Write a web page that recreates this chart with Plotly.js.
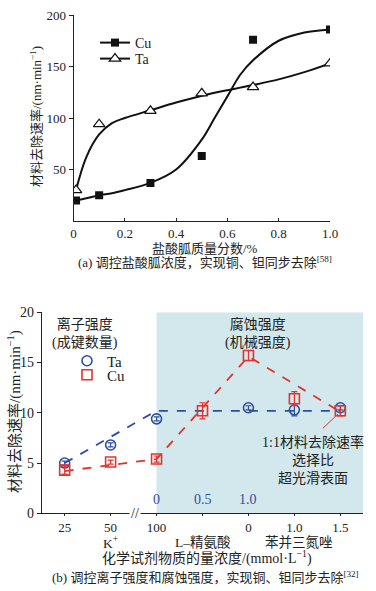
<!DOCTYPE html>
<html><head><meta charset="utf-8">
<script src="https://cdn.plot.ly/plotly-3.0.1.min.js"></script>
<style>html,body{margin:0;padding:0;background:#fff}#c{width:376px;height:591px}</style>
</head><body><div id="c"></div>
<script>
// ---- Top chart (a) ----
const topX = [0.01, 0.1, 0.3, 0.5, 0.7, 1.0];
const topCu = [20, 25, 37, 63, 176, 186];
const topTa = [30, 94, 107, 124, 130, 153];
const fitX = [0.01, 0.05, 0.1, 0.15, 0.2, 0.3, 0.4, 0.5, 0.55, 0.6, 0.65, 0.7, 0.8, 0.9, 1.0];
const fitCu = [20, 22, 25, 27, 30, 37, 50, 79, 100, 121, 142, 156, 175, 183, 186];
const fitTa = [30, 62, 84, 95, 100, 107.5, 115, 121.5, 124.5, 127, 129.5, 132, 137.5, 144.5, 153];
const topTickVals = [0, 0.2, 0.4, 0.6, 0.8, 1.0];
const topTickText = ["0", "0.2", "0.4", "0.6", "0.8", "1.0"];

// ---- Bottom chart (b) ----
const catLabels = ["25", "50", "100", "", "0", "1.0", "1.5"];
const innerLabels = ["0", "0.5", "1.0"];      // blue L-arginine scale at slots 2..4
const innerSlots = [2, 3, 4];
const taVals = [5.0, 6.8, 9.4, null, 10.5, 10.3, 10.5];
const taErr = [0.2, 0.2, 0.2, 0, 0.2, 0.6, 0.2];
const cuVals = [4.3, 5.1, 5.4, 10.2, 15.7, 11.4, 10.2];
const cuErr = [0.4, 0.2, 0.3, 0.8, 0.5, 0.7, 0.5];
const taFitX = [0, 2, 6];
const taFitY = [5.0, 10.2, 10.2];
const cuFitX = [0, 2, 4, 6];
const cuFitY = [4.2, 5.4, 15.6, 10.1];
const groupNames = ["K<sup>+</sup>", "L–精氨酸", "苯并三氮唑"];
const groupPos = [1, 3, 5.1];

const F = "Liberation Serif, Noto Sans CJK SC, serif";
const TXT = "#222";
const BLUE = "#2d4f9e";
const RED = "#e5322c";
const slots = catLabels.map((_, i) => i);
const W = 376, H = 591;
const px = v => v / W, py = v => 1 - v / H;

const cuTopMarker = {symbol: "square", size: 8, color: "#111"};
const taTopMarker = {symbol: "triangle-up", size: 10, color: "#fff", line: {color: "#111", width: 1.2}};
const taBotMarker = {symbol: "circle-open", size: 10, color: BLUE, line: {width: 1.6}};
const cuBotMarker = {symbol: "square-open", size: 10, color: RED, line: {width: 1.6}};

const traces = [
  {x: fitX, y: fitCu, mode: "lines", line: {color: "#111", width: 2, shape: "spline", smoothing: 1}, showlegend: false, xaxis: "x", yaxis: "y", hoverinfo: "skip"},
  {x: fitX, y: fitTa, mode: "lines", line: {color: "#111", width: 2, shape: "spline", smoothing: 1}, showlegend: false, xaxis: "x", yaxis: "y", hoverinfo: "skip"},
  {x: topX, y: topCu, mode: "markers", marker: cuTopMarker, showlegend: false, xaxis: "x", yaxis: "y"},
  {x: topX, y: topTa, mode: "markers", marker: taTopMarker, showlegend: false, xaxis: "x", yaxis: "y"},
  // top legend entries (legend only)
  {x: [null], y: [null], name: "Cu", mode: "lines+markers", line: {color: "#111", width: 2}, marker: cuTopMarker, legend: "legend", xaxis: "x", yaxis: "y"},
  {x: [null], y: [null], name: "Ta", mode: "lines+markers", line: {color: "#111", width: 2}, marker: taTopMarker, legend: "legend2", xaxis: "x", yaxis: "y"},
  // bottom dashed lines
  {x: taFitX, y: taFitY, mode: "lines", line: {color: BLUE, width: 1.8, dash: "dash"}, showlegend: false, xaxis: "x2", yaxis: "y2", hoverinfo: "skip"},
  {x: cuFitX, y: cuFitY, mode: "lines", line: {color: RED, width: 1.8, dash: "dash"}, showlegend: false, xaxis: "x2", yaxis: "y2", hoverinfo: "skip"},
  // bottom markers
  {x: slots, y: taVals, name: "Ta", mode: "markers", marker: taBotMarker,
   error_y: {type: "data", array: taErr, color: BLUE, thickness: 1.2, width: 3}, legend: "legend3", xaxis: "x2", yaxis: "y2"},
  {x: slots, y: cuVals, name: "Cu", mode: "markers", marker: cuBotMarker,
   error_y: {type: "data", array: cuErr, color: RED, thickness: 1.2, width: 3}, legend: "legend4", xaxis: "x2", yaxis: "y2"}
];

const A = (o) => Object.assign({showarrow: false, xanchor: "center", yanchor: "middle"}, o);
const annotations = [
  A({xref: "paper", yref: "paper", x: px(36), y: py(117), text: "材料去除速率/(nm·min<sup>−1</sup>)", textangle: -90, font: {family: F, size: 13, color: TXT}}),
  A({xref: "paper", yref: "paper", x: px(205), y: py(248), text: "盐酸胍质量分数/%", font: {family: F, size: 13, color: TXT}}),
  A({xref: "paper", yref: "paper", x: px(205), y: py(262), text: "(a) 调控盐酸胍浓度，实现铜、钽同步去除<sup>[58]</sup>", font: {family: F, size: 13, color: TXT}}),
  A({xref: "paper", yref: "paper", x: px(14), y: py(412), text: "材料去除速率/(nm·min<sup>−1</sup>)", textangle: -90, font: {family: F, size: 15, color: TXT}}),
  A({xref: "paper", yref: "paper", x: px(207), y: py(557), text: "化学试剂物质的量浓度/(mmol·L<sup>−1</sup>)", font: {family: F, size: 14, color: TXT}}),
  A({xref: "paper", yref: "paper", x: px(205), y: py(577), text: "(b) 调控离子强度和腐蚀强度，实现铜、钽同步去除<sup>[32]</sup>", font: {family: F, size: 13, color: TXT}}),
  A({xref: "x2", yref: "paper", x: 0.45, y: py(333), text: "离子强度<br>(成键数量)", font: {family: F, size: 14, color: TXT}}),
  A({xref: "x2", yref: "paper", x: 4.2, y: py(333), text: "腐蚀强度<br>(机械强度)", font: {family: F, size: 14, color: TXT}}),
  A({xref: "paper", yref: "paper", x: px(313), y: py(460), text: "1:1材料去除速率<br>选择比<br>超光滑表面", font: {family: F, size: 14, color: TXT}}),
  {xref: "x2", yref: "y2", x: 6, y: 10.1, ax: -19, ay: 18, text: "", showarrow: true, arrowhead: 0, arrowwidth: 1, arrowcolor: RED, standoff: 3},
  A({xref: "paper", yref: "paper", x: px(135), y: py(513), text: "//", bgcolor: "#fff", font: {family: F, size: 14, color: TXT}})
];
innerLabels.forEach((t, i) => annotations.push(A({xref: "x2", yref: "y2", x: innerSlots[i], y: 1.4, text: t, font: {family: F, size: 14, color: BLUE}})));
groupNames.forEach((t, i) => annotations.push(A({xref: "x2", yref: "paper", x: groupPos[i], y: py(542), text: t, font: {family: F, size: 13.5, color: TXT}})));

const axBase = {showgrid: false, zeroline: false, showline: true, linecolor: "#222", linewidth: 1, ticks: "outside", ticklen: 4, tickcolor: "#222", tickfont: {family: F, size: 13, color: TXT}};
const leg = (x, y, size) => ({x: px(x), y: py(y), xanchor: "left", yanchor: "middle", bgcolor: "rgba(0,0,0,0)", font: {family: F, size: size, color: TXT}, itemwidth: 30});

const layout = {
  width: W, height: H,
  margin: {l: 0, r: 0, t: 0, b: 0},
  paper_bgcolor: "#fff", plot_bgcolor: "rgba(0,0,0,0)",
  xaxis: Object.assign({}, axBase, {domain: [px(73.5), px(330)], range: [0, 1.0], tickvals: topTickVals, ticktext: topTickText, anchor: "y", ticks: "inside", ticklen: 3}),
  yaxis: Object.assign({}, axBase, {domain: [py(221), py(15)], range: [0, 200], tickvals: [50, 100, 150, 200], anchor: "x"}),
  xaxis2: Object.assign({}, axBase, {domain: [px(41.7), px(363.3)], range: [-0.5, 6.5], tickvals: slots, ticktext: catLabels, anchor: "y2", ticklen: 2}),
  yaxis2: Object.assign({}, axBase, {domain: [py(513.3), py(312.3)], range: [0, 20], tickvals: [0, 5, 10, 15, 20], anchor: "x2", tickfont: {family: F, size: 14, color: TXT}}),
  shapes: [{type: "rect", xref: "x2", yref: "y2", x0: 2, x1: 6.5, y0: 0, y1: 20, fillcolor: "#d3e8ec", line: {width: 0}, layer: "below"}],
  annotations: annotations,
  legend: leg(95, 43, 14),
  legend2: leg(95, 59, 14),
  legend3: leg(67, 361, 15),
  legend4: leg(67, 375, 15),
  showlegend: true
};

Plotly.newPlot("c", traces, layout, {staticPlot: true, displayModeBar: false});
</script></body></html>
